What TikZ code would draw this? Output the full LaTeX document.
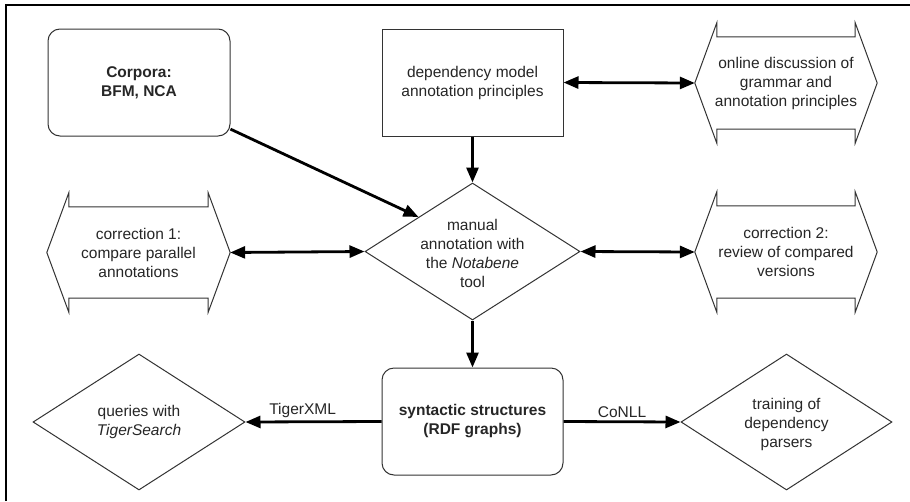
\documentclass[tikz,border=0pt]{standalone}
\usepackage{fontspec}
\setmainfont{Liberation Sans}
\usetikzlibrary{shapes.geometric,arrows.meta,calc}
\newcommand\bannerpath[1]{%
  \draw[outl] (#1.west) -- ($(#1.north west)+(22,0)$) -- ++(0,14)
    -- ($(#1.north east)+(-22,14)$) -- ++(0,-14) -- (#1.east)
    -- ($(#1.south east)+(-22,0)$) -- ++(0,-14)
    -- ($(#1.south west)+(22,-14)$) -- ++(0,14) -- cycle;}
\begin{document}
\begin{tikzpicture}[x=1pt,y=-1pt,
  txt/.style={align=center,font=\fontsize{15.5}{19}\selectfont,text=black!85,inner sep=0},
  box/.style={draw=black!80,line width=1pt,minimum height=107pt,inner sep=0},
  rbox/.style={box,rounded corners=12pt},
  dia/.style={diamond,draw=black!80,line width=1pt,inner sep=0},
  ban/.style={inner sep=0,minimum width=182pt,minimum height=120pt},
  outl/.style={draw=black!80,line width=1pt,line join=miter},
  conn/.style={line width=2.8pt,-{Triangle[length=15pt,width=12pt]}},
  bconn/.style={line width=2.8pt,{Triangle[length=15pt,width=12pt]}-{Triangle[length=15pt,width=12pt]}},
  lab/.style={font=\fontsize{15.5}{19}\selectfont,text=black!85,inner sep=3pt}
]
\useasboundingbox (0,0) rectangle (910,501);
\fill[white] (0,0) rectangle (910,501);
% frame (top and left only)
\draw[line width=1.5pt] (6,501) -- (6,5) -- (910,5);

% nodes
\node[rbox,minimum width=182pt] (corp) at (139,82.5) {};
\node[txt,font=\fontsize{15.5}{19}\selectfont\bfseries] at (corp) {Corpora:\\BFM, NCA};

\node[box,minimum width=181pt] (dep) at (472.5,82.5) {};
\node[txt] at (dep) {dependency model\\annotation principles};

\node[ban] (online) at (786,83) {};
\bannerpath{online}
\node[txt] at (online) {online discussion of\\grammar and\\annotation principles};

\node[dia,minimum width=215pt,minimum height=137pt,aspect=1.57] (man) at (472.5,251.5) {};
\node[txt,yshift=-2pt] at (man) {manual\\annotation with\\the \textit{Notabene}\\tool};

\node[ban,minimum width=183pt,minimum height=119pt] (corr1) at (138.5,252.5) {};
\bannerpath{corr1}
\node[txt] at (corr1) {correction 1:\\compare parallel\\annotations};

\node[ban,minimum width=182pt,minimum height=120pt] (corr2) at (786,252) {};
\bannerpath{corr2}
\node[txt] at (corr2) {correction 2:\\review of compared\\versions};

\node[rbox,minimum width=181pt] (syn) at (472.5,421.5) {};
\node[txt,font=\fontsize{15.5}{19}\selectfont\bfseries] at (syn) {syntactic structures\\(RDF graphs)};

\node[dia,minimum width=212pt,minimum height=136pt,aspect=1.56] (qry) at (139,422) {};
\node[txt] at (qry) {queries with\\\textit{TigerSearch}};

\node[dia,minimum width=211pt,minimum height=136pt,aspect=1.55] (trn) at (786.5,422) {};
\node[txt,yshift=-2pt] at (trn) {training of\\dependency\\parsers};

% connectors
\draw[conn] (corp.-27) -- (man.north west);
\draw[bconn] (dep.east) -- (online.west);
\draw[conn] (dep.south) -- (man.north);
\draw[bconn] (corr1.east) -- (man.west);
\draw[bconn] (man.east) -- (corr2.west);
\draw[conn] (man.south) -- (syn.north);
\draw[conn] (syn.west) -- node[lab,above,pos=0.58] {TigerXML} (qry.east);
\draw[conn] (syn.east) -- node[lab,above] {CoNLL} (trn.west);
\end{tikzpicture}
\end{document}
